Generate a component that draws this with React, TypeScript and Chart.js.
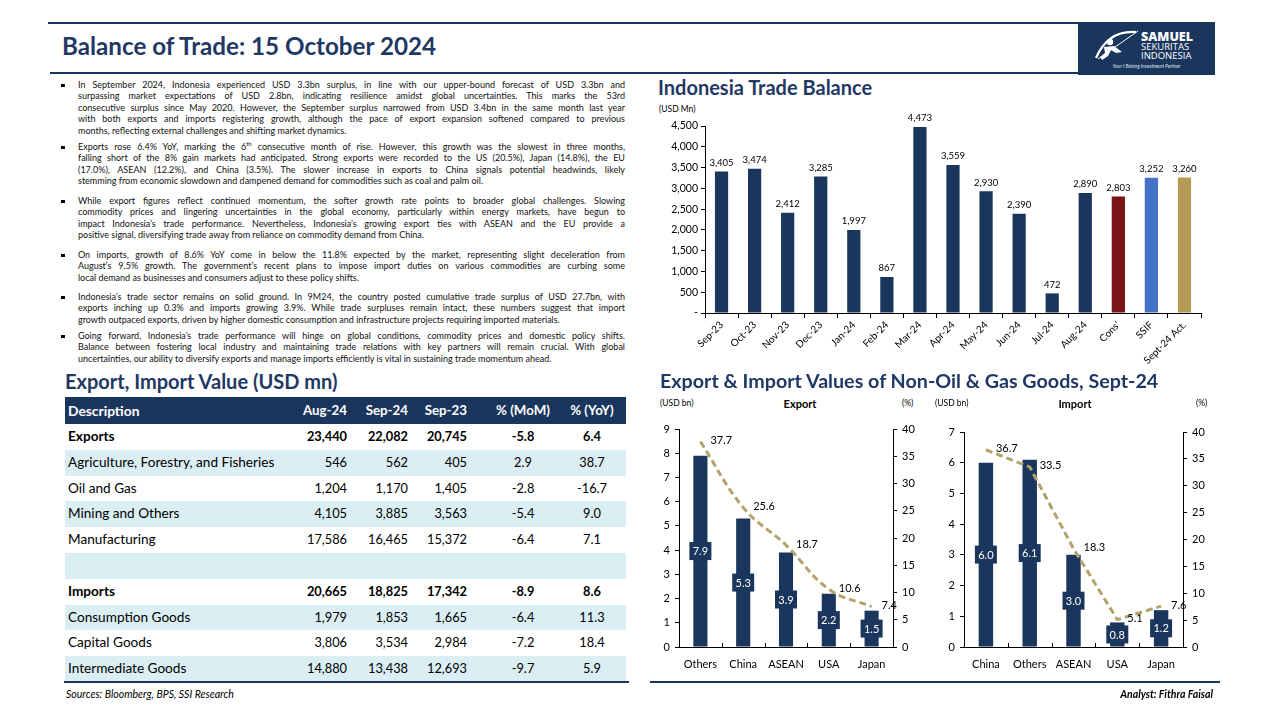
import React, { useEffect, useRef } from "react";
import { Chart, registerables } from "chart.js";

Chart.register(...registerables);

const NAVY = "#1b365d";
const TITLE = "#1f3864";
const MAROON = "#7b1416";
const SSIF_BLUE = "#4472c4";
const GOLD_BAR = "#b39b55";
const GOLD_LINE = "#b3a36b";
const LIGHT_ROW = "#daeef3";
const FONT = "Lato, 'Open Sans', sans-serif";

// ---------- Data ----------
const balanceCategories = [
  "Sep-23", "Oct-23", "Nov-23", "Dec-23", "Jan-24", "Feb-24", "Mar-24", "Apr-24",
  "May-24", "Jun-24", "Jul-24", "Aug-24", "Cons'", "SSIF", "Sept-24 Act.",
];
const balanceValues = [3405, 3474, 2412, 3285, 1997, 867, 4473, 3559, 2930, 2390, 472, 2890, 2803, 3252, 3260];

const exportCategories = ["Others", "China", "ASEAN", "USA", "Japan"];
const exportValues = [7.9, 5.3, 3.9, 2.2, 1.5];
const exportShare = [37.7, 25.6, 18.7, 10.6, 7.4];

const importCategories = ["China", "Others", "ASEAN", "USA", "Japan"];
const importValues = [6.0, 6.1, 3.0, 0.8, 1.2];
const importShare = [36.7, 33.5, 18.3, 5.1, 7.6];

const tableHeaders = ["Description", "Aug-24", "Sep-24", "Sep-23", "% (MoM)", "% (YoY)"];
const tableRows: (string)[][] = [
  ["Exports", "23,440", "22,082", "20,745", "-5.8", "6.4"],
  ["Agriculture, Forestry, and Fisheries", "546", "562", "405", "2.9", "38.7"],
  ["Oil and Gas", "1,204", "1,170", "1,405", "-2.8", "-16.7"],
  ["Mining and Others", "4,105", "3,885", "3,563", "-5.4", "9.0"],
  ["Manufacturing", "17,586", "16,465", "15,372", "-6.4", "7.1"],
  ["", "", "", "", "", ""],
  ["Imports", "20,665", "18,825", "17,342", "-8.9", "8.6"],
  ["Consumption Goods", "1,979", "1,853", "1,665", "-6.4", "11.3"],
  ["Capital Goods", "3,806", "3,534", "2,984", "-7.2", "18.4"],
  ["Intermediate Goods", "14,880", "13,438", "12,693", "-9.7", "5.9"],
];
const boldRows = [0, 6];

const paragraphs: string[][] = [
  [
    "In September 2024, Indonesia experienced USD 3.3bn surplus, in line with our upper-bound forecast of USD 3.3bn and",
    "surpassing market expectations of USD 2.8bn, indicating resilience amidst global uncertainties. This marks the 53rd",
    "consecutive surplus since May 2020. However, the September surplus narrowed from USD 3.4bn in the same month last year",
    "with both exports and imports registering growth, although the pace of export expansion softened compared to previous",
    "months, reflecting external challenges and shifting market dynamics.",
  ],
  [
    "Exports rose 6.4% YoY, marking the 6^th consecutive month of rise. However, this growth was the slowest in three months,",
    "falling short of the 8% gain markets had anticipated. Strong exports were recorded to the US (20.5%), Japan (14.8%), the EU",
    "(17.0%), ASEAN (12.2%), and China (3.5%). The slower increase in exports to China signals potential headwinds, likely",
    "stemming from economic slowdown and dampened demand for commodities such as coal and palm oil.",
  ],
  [
    "While export figures reflect continued momentum, the softer growth rate points to broader global challenges. Slowing",
    "commodity prices and lingering uncertainties in the global economy, particularly within energy markets, have begun to",
    "impact Indonesia\u2019s trade performance. Nevertheless, Indonesia\u2019s growing export ties with ASEAN and the EU provide a",
    "positive signal, diversifying trade away from reliance on commodity demand from China.",
  ],
  [
    "On imports, growth of 8.6% YoY come in below the 11.8% expected by the market, representing slight deceleration from",
    "August\u2019s 9.5% growth. The government\u2019s recent plans to impose import duties on various commodities are curbing some",
    "local demand as businesses and consumers adjust to these policy shifts.",
  ],
  [
    "Indonesia\u2019s trade sector remains on solid ground. In 9M24, the country posted cumulative trade surplus of USD 27.7bn, with",
    "exports inching up 0.3% and imports growing 3.9%. While trade surpluses remain intact, these numbers suggest that import",
    "growth outpaced exports, driven by higher domestic consumption and infrastructure projects requiring imported materials.",
  ],
  [
    "Going forward, Indonesia\u2019s trade performance will hinge on global conditions, commodity prices and domestic policy shifts.",
    "Balance between fostering local industry and maintaining trade relations with key partners will remain crucial. With global",
    "uncertainties, our ability to diversify exports and manage imports efficiently is vital in sustaining trade momentum ahead.",
  ],
];
const paragraphTops = [85, 147, 201, 255, 297, 336];

// ---------- Charts ----------
function TradeBalanceChart() {
  const ref = useRef<HTMLCanvasElement>(null);
  useEffect(() => {
    const colors = balanceCategories.map((_, i) =>
      i === 12 ? MAROON : i === 13 ? SSIF_BLUE : i === 14 ? GOLD_BAR : NAVY
    );
    const labelPlugin = {
      id: "barLabels",
      afterDatasetsDraw(chart: any) {
        const ctx = chart.ctx;
        const meta = chart.getDatasetMeta(0);
        ctx.save();
        ctx.fillStyle = "#000";
        ctx.font = `9.5px ${FONT}`;
        ctx.textAlign = "center";
        ctx.textBaseline = "bottom";
        meta.data.forEach((bar: any, i: number) => {
          ctx.fillText(balanceValues[i].toLocaleString("en-US"), bar.x, bar.y - 4);
        });
        ctx.restore();
      },
    };
    const chart = new Chart(ref.current!, {
      type: "bar",
      data: {
        labels: balanceCategories,
        datasets: [
          {
            data: balanceValues,
            backgroundColor: colors,
            barPercentage: 0.4,
            categoryPercentage: 1,
          },
        ],
      },
      options: {
        animation: false,
        responsive: false,
        layout: { padding: { top: 13, right: 14, left: 0, bottom: 0 } },
        plugins: { legend: { display: false }, tooltip: { enabled: false } },
        scales: {
          x: {
            grid: { display: true, drawOnChartArea: false, drawTicks: true, tickLength: 5, color: "#000", offset: true },
            border: { color: "#000" },
            ticks: {
              color: "#000",
              font: { family: FONT, size: 10 },
              minRotation: 45,
              maxRotation: 45,
              autoSkip: false,
              padding: 1,
            },
            afterFit: (s: any) => {
              s.height = 62;
            },
          },
          y: {
            min: 0,
            max: 4500,
            grid: { drawOnChartArea: false, tickLength: 4, color: "#000" },
            border: { color: "#000" },
            ticks: {
              stepSize: 500,
              color: "#000",
              font: { family: FONT, size: 10.5 },
              padding: 3,
              callback: (v: any) => (v === 0 ? "-" : Number(v).toLocaleString("en-US")),
            },
            afterFit: (s: any) => {
              s.width = 50;
            },
          },
        },
      },
      plugins: [labelPlugin],
    });
    return () => chart.destroy();
  }, []);
  return (
    <canvas
      ref={ref}
      width={560}
      height={262}
      style={{ position: "absolute", left: 655, top: 113, width: 560, height: 262 }}
    />
  );
}

type ComboProps = {
  left: number;
  top: number;
  width: number;
  height: number;
  categories: string[];
  bars: number[];
  line: number[];
  leftMax: number;
  tension: number;
  leftWidth: number;
  rightWidth: number;
  padTop: number;
};

function ComboChart(p: ComboProps) {
  const ref = useRef<HTMLCanvasElement>(null);
  useEffect(() => {
    const plugin = {
      id: "comboLabels",
      afterDatasetDraw(chart: any, args: any) {
        if (args.index !== 0) return;
        const ctx = chart.ctx;
        const meta = chart.getDatasetMeta(0);
        ctx.save();
        meta.data.forEach((bar: any, i: number) => {
          const cy = (bar.y + bar.base) / 2;
          ctx.fillStyle = NAVY;
          ctx.fillRect(bar.x - 11, cy - 9, 22, 18);
          ctx.fillStyle = "#fff";
          ctx.font = `11px ${FONT}`;
          ctx.textAlign = "center";
          ctx.textBaseline = "middle";
          ctx.fillText(p.bars[i].toFixed(1), bar.x, cy + 0.5);
        });
        // inward tick marks on category axis
        const xs = meta.data.map((b: any) => b.x);
        const bottom = chart.chartArea.bottom;
        ctx.strokeStyle = "#000";
        ctx.lineWidth = 1;
        for (let i = 0; i < xs.length - 1; i++) {
          const x = Math.round((xs[i] + xs[i + 1]) / 2) + 0.5;
          ctx.beginPath();
          ctx.moveTo(x, bottom);
          ctx.lineTo(x, bottom - 4);
          ctx.stroke();
        }
        ctx.restore();
      },
      afterDatasetsDraw(chart: any) {
        const ctx = chart.ctx;
        const meta = chart.getDatasetMeta(1);
        ctx.save();
        ctx.fillStyle = "#000";
        ctx.font = `11px ${FONT}`;
        ctx.textAlign = "left";
        ctx.textBaseline = "middle";
        meta.data.forEach((pt: any, i: number) => {
          ctx.fillText(p.line[i].toFixed(1), pt.x + 10, pt.y - 1);
        });
        ctx.restore();
      },
    };
    const chart = new Chart(ref.current!, {
      type: "bar",
      data: {
        labels: p.categories,
        datasets: [
          {
            type: "bar",
            data: p.bars,
            backgroundColor: NAVY,
            barPercentage: 0.33,
            categoryPercentage: 1,
            yAxisID: "y",
            order: 2,
          } as any,
          {
            type: "line",
            data: p.line,
            borderColor: GOLD_LINE,
            borderWidth: 3,
            borderDash: [7, 4],
            pointRadius: 0,
            tension: p.tension,
            cubicInterpolationMode: "default",
            yAxisID: "y1",
            order: 1,
          } as any,
        ],
      },
      options: {
        animation: false,
        responsive: false,
        layout: { padding: { top: p.padTop, right: 0, left: 0, bottom: 0 } },
        plugins: { legend: { display: false }, tooltip: { enabled: false } },
        scales: {
          x: {
            grid: { display: false },
            border: { color: "#000" },
            ticks: { color: "#000", font: { family: FONT, size: 11 }, padding: 3 },
            afterFit: (s: any) => {
              s.height = 28;
            },
          },
          y: {
            position: "left",
            min: 0,
            max: p.leftMax,
            grid: { drawOnChartArea: false, tickLength: 4, color: "#000" },
            border: { color: "#000" },
            ticks: { stepSize: 1, color: "#000", font: { family: FONT, size: 11 }, padding: 5 },
            afterFit: (s: any) => {
              s.width = p.leftWidth;
            },
          },
          y1: {
            position: "right",
            min: 0,
            max: 40,
            grid: { drawOnChartArea: false, tickLength: 4, color: "#000" },
            border: { color: "#000" },
            ticks: { stepSize: 5, color: "#000", font: { family: FONT, size: 11 }, padding: 5 },
            afterFit: (s: any) => {
              s.width = p.rightWidth;
            },
          },
        },
      },
      plugins: [plugin],
    });
    return () => chart.destroy();
  }, []);
  return (
    <canvas
      ref={ref}
      width={p.width}
      height={p.height}
      style={{ position: "absolute", left: p.left, top: p.top, width: p.width, height: p.height }}
    />
  );
}

// ---------- Layout pieces ----------
function abs(left: number, top: number, extra: any = {}) {
  return { position: "absolute" as const, left, top, ...extra };
}

function renderLine(text: string) {
  if (text.includes("^th")) {
    const [a, b] = text.split("^th");
    return (
      <>
        {a}
        <sup style={{ fontSize: "6px", lineHeight: 0 }}>th</sup>
        {b}
      </>
    );
  }
  return text;
}

function Bullets() {
  const out: any[] = [];
  paragraphs.forEach((lines, pi) => {
    const top0 = paragraphTops[pi];
    out.push(
      <div key={`b${pi}`} style={abs(61, top0 - 1.5, { width: 3.5, height: 3.5, background: "#000" })} />
    );
    lines.forEach((ln, li) => {
      const last = li === lines.length - 1;
      out.push(
        <div
          key={`l${pi}-${li}`}
          style={abs(78, top0 + li * 11.55 - 6.5, {
            width: 547,
            height: 12,
            lineHeight: "12px",
            fontSize: "9px",
            whiteSpace: "nowrap",
            textAlign: last ? "left" : "justify",
            textAlignLast: last ? "left" : "justify",
            color: "#111",
          })}
        >
          {renderLine(ln)}
        </div>
      );
    });
  });
  return <>{out}</>;
}

function DataTable() {
  const rowH = 25.8;
  const top0 = 397;
  const left = 65;
  const width = 561;
  const rightEdges = [347, 408, 467];
  const centers = [523, 592];
  const cells = (vals: string[], color: string, bold: boolean, descSize: string) => (
    <>
      <div style={abs(3, 0, { fontWeight: bold ? 700 : 400, color, fontSize: descSize })}>{vals[0]}</div>
      {rightEdges.map((r, i) => (
        <div key={i} style={abs(0, 0, { left: "auto", right: left + width - r, fontWeight: bold ? 700 : 400, color })}>
          {vals[i + 1]}
        </div>
      ))}
      {centers.map((c, i) => (
        <div
          key={`c${i}`}
          style={abs(c - left - 40, 0, { width: 80, textAlign: "center", fontWeight: bold ? 700 : 400, color })}
        >
          {vals[i + 4]}
        </div>
      ))}
    </>
  );
  return (
    <>
      <div
        style={abs(left, top0, {
          width,
          height: 27,
          background: NAVY,
          fontSize: "13.3px",
          lineHeight: "27px",
        })}
      >
        {cells(tableHeaders, "#fff", true, "13.8px")}
      </div>
      {tableRows.map((r, i) => (
        <div
          key={i}
          style={abs(left, top0 + 27 + i * rowH, {
            width,
            height: rowH,
            background: i % 2 === 1 ? LIGHT_ROW : "#fff",
            fontSize: "12.8px",
            lineHeight: `${rowH}px`,
          })}
        >
          {cells(r, "#000", boldRows.includes(i), "13.6px")}
        </div>
      ))}
      <div style={abs(left - 1, 681, { width: width + 4, height: 2, background: NAVY })} />
    </>
  );
}

function Logo() {
  return (
    <div style={abs(1078, 22, { width: 137, height: 53, background: NAVY, overflow: "hidden" })}>
      <svg width="137" height="53" style={{ position: "absolute", left: 0, top: 0 }}>
        <path d="M18 36 Q30 8 58 10" stroke="#fff" strokeWidth="2.2" fill="none" />
        <line x1="20" y1="37" x2="60" y2="9" stroke="#fff" strokeWidth="1" />
        <circle cx="32" cy="20" r="3.2" fill="#fff" />
        <path d="M26 25 L36 24 L44 30 L38 31 L33 28 L30 34 L24 38 L22 35 L27 31 Z" fill="#fff" />
      </svg>
      <div style={abs(63, 8, { color: "#fff", fontWeight: 900, fontSize: "12.5px", lineHeight: "13px", fontFamily: "'Open Sans', Lato, sans-serif" })}>
        SAMUEL
      </div>
      <div style={abs(63, 20, { color: "#fff", fontSize: "9.5px", lineHeight: "10px", fontFamily: "'Open Sans', Lato, sans-serif" })}>
        SEKURITAS
      </div>
      <div style={abs(63, 29, { color: "#fff", fontSize: "9.5px", lineHeight: "10px", fontFamily: "'Open Sans', Lato, sans-serif" })}>
        INDONESIA
      </div>
      <div style={abs(0, 41, { width: 137, textAlign: "center", color: "#dfe6f0", fontStyle: "italic", fontSize: "5px", lineHeight: "6px" })}>
        Your I Belong Investment Partner
      </div>
    </div>
  );
}

export default function App() {
  return (
    <div
      style={{
        position: "absolute",
        left: 0,
        top: 0,
        width: 1280,
        height: 720,
        background: "#fff",
        fontFamily: FONT,
        overflow: "hidden",
      }}
    >
      {/* header rules */}
      <div style={abs(48, 22, { width: 1030, height: 2, background: NAVY })} />
      <div style={abs(50, 72, { width: 1028, height: 2, background: NAVY })} />
      <div
        style={abs(62, 31, {
          fontSize: "24.2px",
          fontWeight: 700,
          color: TITLE,
          lineHeight: "29px",
          whiteSpace: "nowrap",
        })}
      >
        Balance of Trade: 15 October 2024
      </div>
      <Logo />

      <Bullets />

      {/* Trade balance chart */}
      <div style={abs(658, 75, { fontSize: "20px", fontWeight: 700, color: TITLE, lineHeight: "24px", whiteSpace: "nowrap" })}>
        Indonesia Trade Balance
      </div>
      <div style={abs(659, 104, { fontSize: "8.5px", color: "#000", lineHeight: "11px" })}>(USD Mn)</div>
      <TradeBalanceChart />

      {/* Table */}
      <div style={abs(65, 369, { fontSize: "20px", fontWeight: 700, color: TITLE, lineHeight: "24px", whiteSpace: "nowrap" })}>
        Export, Import Value (USD mn)
      </div>
      <DataTable />
      <div style={abs(66, 688, { fontSize: "10.5px", fontStyle: "italic", color: "#000", lineHeight: "13px" })}>
        Sources: Bloomberg, BPS, SSI Research
      </div>

      {/* Non-oil charts */}
      <div style={abs(660, 369, { fontSize: "19.7px", fontWeight: 700, color: TITLE, lineHeight: "24px", whiteSpace: "nowrap" })}>
        Export &amp; Import Values of Non-Oil &amp; Gas Goods, Sept-24
      </div>
      <div style={abs(660, 398, { fontSize: "8.5px", lineHeight: "11px" })}>(USD bn)</div>
      <div style={abs(760, 397, { width: 80, textAlign: "center", fontSize: "11px", fontWeight: 700, lineHeight: "13px" })}>
        Export
      </div>
      <div style={abs(902, 398, { fontSize: "8.5px", lineHeight: "11px" })}>(%)</div>
      <ComboChart
        left={655}
        top={415}
        width={280}
        height={260}
        categories={exportCategories}
        bars={exportValues}
        line={exportShare}
        leftMax={9}
        tension={0.4}
        leftWidth={24}
        rightWidth={42}
        padTop={14}
      />

      <div style={abs(935, 398, { fontSize: "8.5px", lineHeight: "11px" })}>(USD bn)</div>
      <div style={abs(1035, 397, { width: 80, textAlign: "center", fontSize: "11px", fontWeight: 700, lineHeight: "13px" })}>
        Import
      </div>
      <div style={abs(1196, 398, { fontSize: "8.5px", lineHeight: "11px" })}>(%)</div>
      <ComboChart
        left={935}
        top={415}
        width={280}
        height={260}
        categories={importCategories}
        bars={importValues}
        line={importShare}
        leftMax={7}
        tension={0}
        leftWidth={29}
        rightWidth={32}
        padTop={17}
      />

      <div style={abs(650, 681, { width: 570, height: 2, background: NAVY })} />
      <div
        style={abs(1013, 688, {
          width: 200,
          textAlign: "right",
          fontSize: "10.5px",
          fontStyle: "italic",
          fontWeight: 700,
          color: "#000",
          lineHeight: "13px",
        })}
      >
        Analyst: Fithra Faisal
      </div>
    </div>
  );
}
